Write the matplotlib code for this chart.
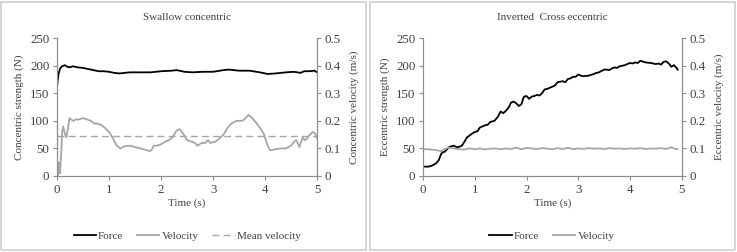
import matplotlib.pyplot as plt
from matplotlib.patches import Rectangle

# --- Swallow concentric ---
sw_t = [0.0, 0.01, 0.03, 0.06, 0.1, 0.15, 0.2, 0.25, 0.3, 0.4, 0.5, 0.6, 0.7, 0.8, 0.9, 1.0,
        1.1, 1.2, 1.4, 1.6, 1.8, 2.0, 2.2, 2.3, 2.45, 2.6, 2.8, 3.0, 3.2, 3.3, 3.5, 3.7,
        3.9, 4.05, 4.2, 4.4, 4.55, 4.62, 4.68, 4.75, 4.85, 4.95, 5.0]
sw_force = [160, 170, 185, 195, 199, 201, 198, 197, 199, 197, 196, 194, 192, 190, 190, 189,
            187, 186, 188, 188, 188, 190, 191, 192, 189, 188, 189, 189, 192, 193, 191, 191,
            188, 185, 186, 188, 189, 188, 187, 190, 190, 191, 188]

sw_vt = [0.0, 0.005, 0.02, 0.04, 0.06, 0.08, 0.1, 0.12, 0.15, 0.18, 0.21, 0.24, 0.27, 0.32,
         0.36, 0.42, 0.5, 0.58, 0.65, 0.72, 0.78, 0.85, 0.92, 1.0, 1.08, 1.15, 1.22, 1.3,
         1.4, 1.5, 1.6, 1.7, 1.78, 1.82, 1.86, 1.92, 2.0, 2.08, 2.15, 2.22, 2.3, 2.36, 2.42,
         2.5, 2.58, 2.65, 2.7, 2.78, 2.85, 2.9, 2.95, 3.05, 3.12, 3.2, 3.28, 3.35, 3.45,
         3.55, 3.6, 3.65, 3.68, 3.75, 3.82, 3.9, 3.97, 4.05, 4.1, 4.2, 4.3, 4.4, 4.45,
         4.5, 4.56, 4.6, 4.66, 4.72, 4.76, 4.8, 4.86, 4.92, 4.96, 5.0]
sw_vel = [0.5, 0.02, 0.0, 0.05, 0.01, 0.08, 0.16, 0.18, 0.155, 0.14, 0.17, 0.21, 0.205,
          0.2, 0.205, 0.205, 0.21, 0.205, 0.2, 0.19, 0.19, 0.185, 0.175, 0.16, 0.135,
          0.11, 0.1, 0.108, 0.11, 0.105, 0.1, 0.095, 0.09, 0.095, 0.11, 0.11, 0.115, 0.125,
          0.13, 0.14, 0.165, 0.17, 0.155, 0.13, 0.125, 0.12, 0.11, 0.12, 0.12, 0.13, 0.12,
          0.125, 0.135, 0.15, 0.175, 0.19, 0.2, 0.2, 0.205, 0.215, 0.222, 0.21, 0.195, 0.175,
          0.155, 0.11, 0.093, 0.097, 0.1, 0.1, 0.105, 0.11, 0.125, 0.13, 0.105, 0.14, 0.13,
          0.135, 0.15, 0.16, 0.155, 0.135]
sw_mean = 0.145

# --- Inverted Cross eccentric ---
ic_t = [0.0, 0.1, 0.15, 0.2, 0.25, 0.3, 0.35, 0.38, 0.42, 0.46, 0.5, 0.55, 0.6, 0.65, 0.7,
        0.75, 0.8, 0.85, 0.92, 1.0, 1.05, 1.1, 1.2, 1.25, 1.3, 1.38, 1.45, 1.5, 1.55, 1.6,
        1.66, 1.7, 1.75, 1.8, 1.85, 1.9, 1.95, 2.0, 2.05, 2.1, 2.15, 2.2, 2.25, 2.3, 2.35,
        2.4, 2.45, 2.5, 2.55, 2.6, 2.65, 2.7, 2.75, 2.8, 2.85, 2.9, 2.95, 3.0, 3.05, 3.1,
        3.2, 3.3, 3.35, 3.4, 3.5, 3.55, 3.6, 3.65, 3.7, 3.75, 3.8, 3.9, 3.95, 4.0, 4.05,
        4.1, 4.15, 4.2, 4.3, 4.4, 4.5, 4.55, 4.6, 4.65, 4.7, 4.75, 4.8, 4.85, 4.9, 4.92]
ic_force = [17, 17, 18, 20, 23, 28, 40, 43, 44, 48, 52, 54, 55, 52, 53, 55, 62, 70, 75, 80,
            81, 88, 92, 93, 98, 100, 108, 117, 114, 118, 125, 133, 135, 132, 127, 130, 144,
            145, 140, 144, 145, 147, 146, 150, 157, 158, 160, 162, 164, 170, 171, 172, 170,
            176, 177, 180, 180, 184, 182, 181, 182, 185, 187, 188, 193, 193, 192, 195, 197,
            196, 199, 201, 203, 205, 204, 206, 205, 209, 206, 205, 203, 204, 202, 207, 208,
            204, 198, 201, 196, 193]

ic_vt = [0.0, 0.1, 0.2, 0.3, 0.35, 0.4, 0.45, 0.5, 0.6, 0.7, 0.8, 0.9, 1.0, 1.1, 1.2, 1.3,
         1.4, 1.5, 1.6, 1.7, 1.8, 1.9, 2.0, 2.1, 2.2, 2.3, 2.4, 2.5, 2.6, 2.7, 2.8, 2.9,
         3.0, 3.1, 3.2, 3.3, 3.4, 3.5, 3.6, 3.7, 3.8, 3.9, 4.0, 4.1, 4.2, 4.3, 4.4, 4.5,
         4.6, 4.7, 4.8, 4.9, 4.92]
ic_vel = [0.097, 0.097, 0.095, 0.092, 0.09, 0.095, 0.1, 0.102, 0.1, 0.097, 0.096, 0.1,
          0.097, 0.1, 0.096, 0.099, 0.1, 0.097, 0.1, 0.098, 0.103, 0.097, 0.102, 0.1,
          0.098, 0.101, 0.099, 0.097, 0.101, 0.098, 0.102, 0.098, 0.1, 0.098, 0.101, 0.099,
          0.1, 0.098, 0.101, 0.099, 0.1, 0.098, 0.1, 0.099, 0.101, 0.098, 0.1, 0.099,
          0.101, 0.098, 0.104, 0.097, 0.098]

plt.rcParams['font.family'] = ['Liberation Serif', 'DejaVu Serif']
fs = 8
tfs = 9.3
tc = '#404040'

fig = plt.figure(figsize=(7.37, 2.52), dpi=100)

# panel frames
for x0, w in [(0.002, 0.494), (0.502, 0.495)]:
    fig.patches.append(Rectangle((x0, 0.008), w, 0.985, transform=fig.transFigure,
                                 fill=False, edgecolor='#d0d0d0', linewidth=1.2))


def setup(ax, ax2, ylabel, y2label, title):
    ax.set_xlim(0, 5)
    ax.set_ylim(0, 250)
    ax2.set_ylim(0, 0.5)
    ax.set_xticks([0, 1, 2, 3, 4, 5])
    ax.set_yticks([0, 50, 100, 150, 200, 250])
    ax2.set_yticks([0, 0.1, 0.2, 0.3, 0.4, 0.5])
    ax2.set_yticklabels(['0', '0.1', '0.2', '0.3', '0.4', '0.5'])
    for a in (ax, ax2):
        for s in a.spines.values():
            s.set_color('#8c8c8c')
            s.set_linewidth(0.8)
        a.spines['top'].set_visible(False)
        a.tick_params(labelsize=tfs, colors='#8c8c8c', labelcolor=tc, length=3, width=0.8,
                      pad=2.5)
    ax.set_xlabel('Time (s)', fontsize=fs, color=tc, labelpad=2)
    ax.set_ylabel(ylabel, fontsize=fs, color=tc, labelpad=4)
    ax2.set_ylabel(y2label, fontsize=fs, color=tc, labelpad=6)
    ax.set_title(title, fontsize=fs, color=tc, pad=13)


ax1 = fig.add_axes([0.0773, 0.3016, 0.353, 0.547])
ax1b = ax1.twinx()
l1, = ax1.plot(sw_t, sw_force, color='black', lw=1.3, label='Force')
l2, = ax1b.plot(sw_vt, sw_vel, color='#a6a6a6', lw=1.3, label='Velocity')
l3 = ax1b.axhline(sw_mean, color='#a6a6a6', lw=1.0, ls=(0, (5, 3)), label='Mean velocity')
setup(ax1, ax1b, 'Concentric strength (N)', 'Concentric velocity (m/s)', 'Swallow concentric')
ax1.legend(handles=[l1, l2, l3], loc='center', bbox_to_anchor=(0.254, 0.062),
           bbox_transform=fig.transFigure, ncol=3, frameon=False, fontsize=fs,
           handlelength=2.0, columnspacing=1.25, handletextpad=0.2, labelcolor=tc)

ax2 = fig.add_axes([0.574, 0.3016, 0.351, 0.547])
ax2b = ax2.twinx()
m1, = ax2.plot(ic_t, ic_force, color='black', lw=1.3, label='Force')
m2, = ax2b.plot(ic_vt, ic_vel, color='#a6a6a6', lw=1.3, label='Velocity')
setup(ax2, ax2b, 'Eccentric strength (N)', 'Eccentric velocity (m/s)', 'Inverted  Cross eccentric')
ax2.legend(handles=[m1, m2], loc='center', bbox_to_anchor=(0.749, 0.062),
           bbox_transform=fig.transFigure, ncol=2, frameon=False, fontsize=fs,
           handlelength=2.0, columnspacing=1.25, handletextpad=0.2, labelcolor=tc)

fig.savefig('out.png', dpi=100)
